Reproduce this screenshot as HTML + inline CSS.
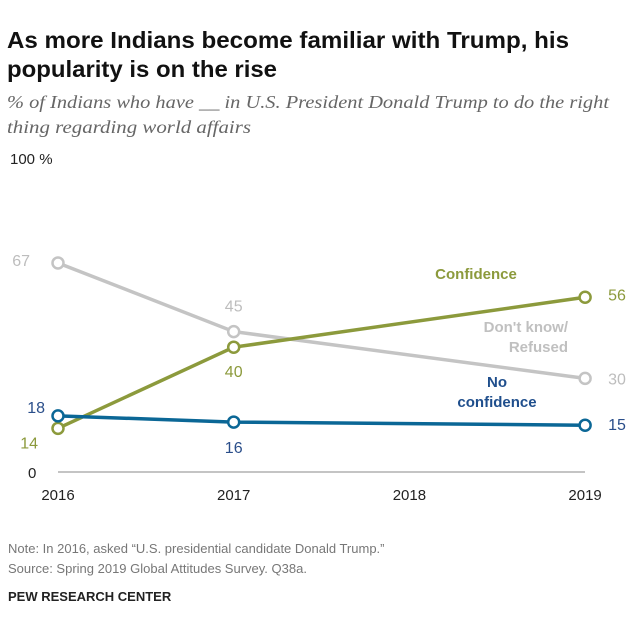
<!DOCTYPE html>
<html><head><meta charset="utf-8"><style>
body{margin:0;background:#fff;width:640px;height:629px;overflow:hidden;font-family:"Liberation Sans",sans-serif}
</style></head><body>
<svg width="640" height="629" style="position:absolute;left:0;top:0">
<text x="7" y="48" font-size="23" font-weight="bold" fill="#111" textLength="562" lengthAdjust="spacingAndGlyphs">As more Indians become familiar with Trump, his</text>
<text x="7" y="77" font-size="23" font-weight="bold" fill="#111" textLength="270" lengthAdjust="spacingAndGlyphs">popularity is on the rise</text>
<text x="7" y="108" font-size="17.5" font-style="italic" fill="#666" font-family="Liberation Serif,serif" textLength="602" lengthAdjust="spacingAndGlyphs">% of Indians who have __ in U.S. President Donald Trump to do the right</text>
<text x="7" y="133" font-size="17.5" font-style="italic" fill="#666" font-family="Liberation Serif,serif" textLength="244" lengthAdjust="spacingAndGlyphs">thing regarding world affairs</text>
<text x="10" y="164" font-size="15" fill="#222">100  %</text>
<text x="28" y="478" font-size="15" fill="#222">0</text>
<line x1="58" x2="585" y1="472" y2="472" stroke="#888" stroke-width="1"/>
<g id="xt"></g><g id="series"></g>
<text x="476" y="279" font-size="15" font-weight="bold" fill="#8c9a3c" text-anchor="middle">Confidence</text>
<text x="568" y="332" font-size="15" font-weight="bold" fill="#c0c0c0" text-anchor="end">Don't know/</text>
<text x="568" y="352" font-size="15" font-weight="bold" fill="#c0c0c0" text-anchor="end">Refused</text>
<text x="497" y="387" font-size="15" font-weight="bold" fill="#1f4e8c" text-anchor="middle">No</text>
<text x="497" y="407" font-size="15" font-weight="bold" fill="#1f4e8c" text-anchor="middle">confidence</text>
<text x="8" y="553" font-size="13" fill="#777">Note: In 2016, asked “U.S. presidential candidate Donald Trump.”</text>
<text x="8" y="573" font-size="13" fill="#777">Source: Spring 2019 Global Attitudes Survey. Q38a.</text>
<text x="8" y="601" font-size="13" font-weight="bold" fill="#222">PEW RESEARCH CENTER</text>
</svg>
<script>
const years=[2016,2017,2018,2019];
const tickLabels=["2016","2017","2018","2019"];
const dataYears=[2016,2017,2019];
const confidence=[14,40,56];
const dontKnow=[67,45,30];
const noConfidence=[18,16,15];
const NS="http://www.w3.org/2000/svg";
const X=y=>58+(y-2016)*175.7;
const Y=v=>472-v*3.12;
function mk(t,a,p){const e=document.createElementNS(NS,t);for(const k in a)e.setAttribute(k,a[k]);p.appendChild(e);return e;}
const xt=document.getElementById('xt');
years.forEach((y,i)=>{const t=mk('text',{x:X(y),y:500,'font-size':15,'text-anchor':'middle',fill:'#222'},xt);t.textContent=tickLabels[i];

});
const g=document.getElementById('series');
const series=[
 {name:'dont-know',vals:dontKnow,color:'#c4c4c4',lab:'#bdbdbd',off:[[-28,3,'end'],[0,-20,'middle'],[23,6,'start']]},
 {name:'confidence',vals:confidence,color:'#8c9a3c',lab:'#8c9a3c',off:[[-20,20,'end'],[0,30,'middle'],[23,3,'start']]},
 {name:'no-confidence',vals:noConfidence,color:'#0b6796',lab:'#2a4e8a',off:[[-13,-3,'end'],[0,31,'middle'],[23,5,'start']]}
];
series.forEach(s=>{
 const pl=mk('polyline',{points:s.vals.map((v,i)=>X(dataYears[i])+','+Y(v)).join(' '),fill:'none',stroke:s.color,'stroke-width':3.5},g);
 
 
 s.vals.forEach((v,i)=>{
  const c=mk('circle',{cx:X(dataYears[i]),cy:Y(v),r:5.5,fill:'#fff',stroke:s.color,'stroke-width':2.5},g);
  
  
  const o=s.off[i];
  const t=mk('text',{x:X(dataYears[i])+o[0],y:Y(v)+o[1],'font-size':16,fill:s.lab,'text-anchor':o[2]},g);
  t.textContent=v;
  
  
 });
});
</script>
</body></html>
